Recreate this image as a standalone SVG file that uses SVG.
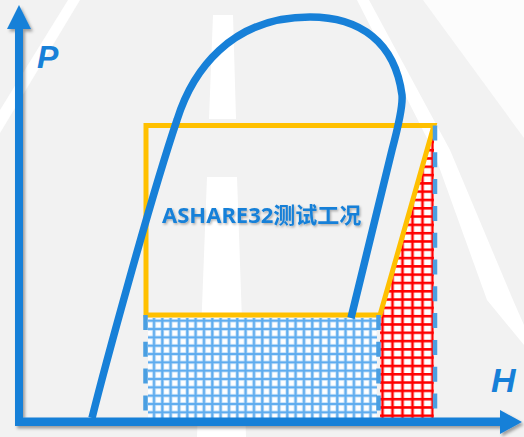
<svg xmlns="http://www.w3.org/2000/svg" width="524" height="437" viewBox="0 0 524 437">
<defs>
<style>
.ax{fill:#1780d8;stroke:none}
.dash{stroke:#4a9fe2;stroke-width:4.5;stroke-dasharray:15 11.8;fill:none}
.lbl{font-family:"Liberation Sans",Arial,sans-serif;font-weight:bold;font-style:italic;fill:#1780d8}
</style>
<filter id="sh" x="-20%" y="-20%" width="140%" height="140%">
<feDropShadow dx="2" dy="2.5" stdDeviation="1.5" flood-color="#000" flood-opacity="0.35"/>
</filter>
<filter id="tsh" x="-10%" y="-30%" width="120%" height="160%">
<feDropShadow dx="1.2" dy="1.5" stdDeviation="0.8" flood-color="#000" flood-opacity="0.3"/>
</filter>
<pattern id="bgrid" x="150" y="317" width="8.33" height="8.33" patternUnits="userSpaceOnUse">
<rect width="8.4" height="8.4" fill="#fff"/>
<path d="M4,0V8.4M0,3.7H8.4" stroke="#b3d8f7" stroke-width="3.4"/>
<path d="M4,0V8.4M0,3.7H8.4" stroke="#5eacef" stroke-width="2"/>
</pattern>
<pattern id="rgrid" x="377.5" y="278" width="10" height="8.3" patternUnits="userSpaceOnUse">
<rect width="10.1" height="8.4" fill="#fff"/>
<path d="M5,0V8.4M0,5H10.1" stroke="#ff0000" stroke-width="2.6"/>
</pattern>
<clipPath id="rclip"><polygon points="434,126 380,315 380,418 433.8,418"/></clipPath>
</defs>

<g id="background">
<rect width="524" height="437" fill="#f2f2f2"/>
<polygon points="423,0 524,0 524,138" fill="#fcfcfc"/>
<polygon points="357,0 369,0 450,150 513,300 524,325 524,345 487,300 433,150" fill="#ffffff"/>
<polygon points="68,0 80,0 0,133 0,110" fill="#ffffff"/>
<polygon points="213,15 233,15 236,119 209,119" fill="#ffffff"/>
<polygon points="207,177 237,177 246,437 197,437" fill="#ffffff"/>
</g>

<g id="grids">
<rect id="blue-grid" x="148" y="318" width="229" height="100.5" fill="url(#bgrid)"/>
<rect id="red-grid" x="378" y="120" width="60" height="300" fill="url(#rgrid)" clip-path="url(#rclip)"/>
</g>

<g id="yellow-box">
<polygon points="146,125.5 434,125.5 380,315 146,315" fill="none" stroke="#ffc000" stroke-width="5"/>
</g>

<g id="dashed-lines">
<line class="dash" x1="145.5" y1="315" x2="145.5" y2="422"/>
<line class="dash" x1="378.5" y1="315" x2="378.5" y2="420"/>
<line class="dash" x1="435" y1="125.5" x2="435" y2="424"/>
</g>

<g id="curve">
<path d="M92,418 C104,370 150,200 177,120 C192,72 230,17 310,17 C360,17 395,42 402,95 C403,105 396,135 392,150 L351,318" fill="none" stroke="#1780d8" stroke-width="7.5"/>
</g>

<g id="axes" filter="url(#sh)">
<rect class="ax" x="15" y="26" width="8" height="400"/>
<polygon class="ax" points="7,29 19,5 31,29"/>
<rect class="ax" x="15" y="417.5" width="488" height="8.5"/>
<polygon class="ax" points="500,410 522,422 500,434"/>
</g>

<g id="labels">
<text class="lbl" x="37" y="68" font-size="32">P</text>
<text class="lbl" x="491" y="392" font-size="34">H</text>
<text x="162" y="223" font-family="'Noto Sans','Noto Sans CJK SC',sans-serif" font-weight="bold" font-size="22" fill="#1780d8" filter="url(#tsh)">ASHARE32测试工况</text>
</g>
</svg>
